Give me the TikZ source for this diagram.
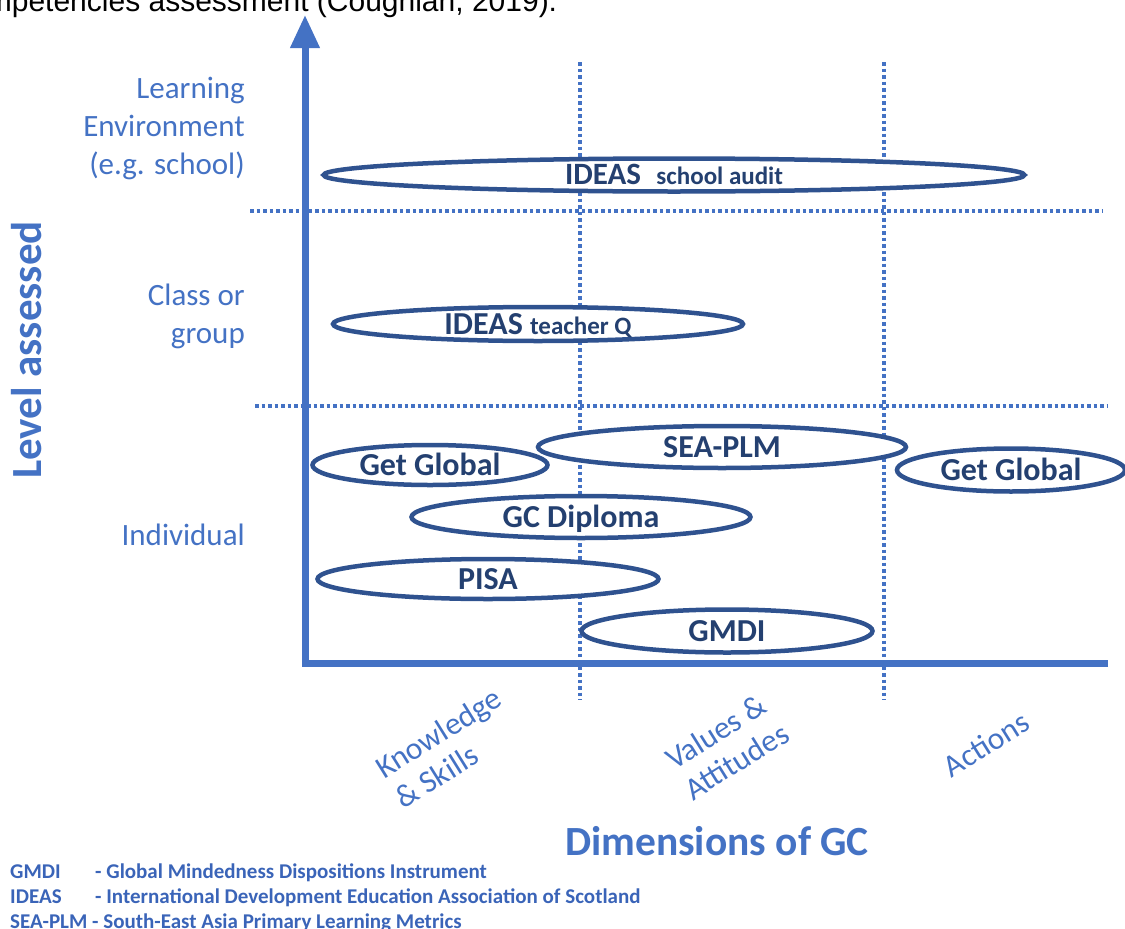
\documentclass[tikz,border=0pt]{standalone}
\usepackage{fontspec}
\setmainfont{Carlito}
\newfontfamily\bodyfont{Liberation Sans}
\usetikzlibrary{shapes.geometric,arrows.meta}

\definecolor{axisblue}{RGB}{68,114,196}
\definecolor{legendblue}{RGB}{58,100,184}
\definecolor{ringblue}{RGB}{47,82,143}
\definecolor{ringtext}{RGB}{36,64,112}

\begin{document}
\begin{tikzpicture}[x=1pt,y=-1pt,
  lab/.style={text=axisblue,font=\fontsize{31}{38}\selectfont,align=right,inner sep=0},
  dimlab/.style={text=axisblue,font=\fontsize{31.5}{36}\selectfont,align=left,inner sep=0,rotate=32},
  title/.style={text=axisblue,font=\fontsize{41.5}{48}\selectfont\bfseries,inner sep=0},
  legend/.style={text=legendblue,font=\fontsize{21}{25}\selectfont\bfseries,anchor=base west,inner sep=0},
  ring/.style={ellipse,draw=ringblue,line width=4.5pt,fill=white,inner sep=0},
  ringlabel/.style={text=ringtext,font=\fontsize{32}{38}\selectfont\bfseries,inner sep=0,text height=20.5pt,text depth=0pt},
  gridline/.style={draw=axisblue,line width=3.5pt,dash pattern=on 3.5pt off 3pt},
  axisline/.style={draw=axisblue,line width=7pt,line join=miter}]
\useasboundingbox (0,0) rectangle (1125,929);
\clip (0,0) rectangle (1125,929);

% running text of the page above the chart
\node[anchor=base west,inner sep=0,font=\bodyfont\fontsize{30}{36}\selectfont] (caption) at (-45,11)
  {competencies assessment (Coughlan, 2019).};

% reference points of the grid
\coordinate (origin) at (305,663);
\coordinate (ytip) at (305,15);
\coordinate (xend) at (1108,663);
\coordinate (v1top) at (580,62);   \coordinate (v1bot) at (580,700);
\coordinate (v2top) at (884,62);   \coordinate (v2bot) at (884,700);
\coordinate (h1l) at (250,211);    \coordinate (h1r) at (1102,211);
\coordinate (h2l) at (255,406);    \coordinate (h2r) at (1107,406);

% dotted grid
\draw[gridline] (v1top) -- (v1bot);
\draw[gridline] (v2top) -- (v2bot);
\draw[gridline] (h1l) -- (h1r);
\draw[gridline] (h2l) -- (h2r);

% axes
\draw[axisline,-{Triangle[width=28pt,length=33pt]}] (xend) -- (origin) -- (ytip);

% level labels
\node[lab,anchor=east] (learnenv) at (245,128) {Learning\\Environment\\(e.g. school)};
\node[lab,anchor=east] (classgrp) at (245,316) {Class or\\group};
\node[lab,anchor=east] (indiv) at (245,535) {Individual};
\node[title,rotate=90,font=\fontsize{43}{50}\selectfont\bfseries] (levelt) at (27,350) {Level assessed};

% dimension labels
\node[dimlab] (knowl) at (448,748) {Knowledge\\\& Skills};
\node[dimlab] (values) at (727,746) {Values \&\\Attitudes};
\node[dimlab] (actions) at (986,744) {Actions};
\node[title] (dimt) at (717,841) {Dimensions of GC};

% instruments
\node[ring,minimum width=701pt,minimum height=33pt,
  label={[ringlabel,text height=19.5pt]center:{\fontsize{31}{36}\selectfont IDEAS\enspace{\fontsize{25}{30}\selectfont school audit}}}] (audit) at (674,175) {};
\node[ring,minimum width=410pt,minimum height=34pt,
  label={[ringlabel]center:{IDEAS {\fontsize{25}{30}\selectfont teacher Q}}}] (teacher) at (538,324) {};
\node[ring,minimum width=368pt,minimum height=42pt,
  label={[ringlabel]center:SEA-PLM}] (seaplm) at (722,447) {};
\node[ring,minimum width=235pt,minimum height=40pt,
  label={[ringlabel]center:Get Global}] (getgl) at (430,465) {};
\node[ring,minimum width=228pt,minimum height=43pt,
  label={[ringlabel]center:Get Global}] (getgr) at (1011,470) {};
\node[ring,minimum width=339pt,minimum height=42pt,
  label={[ringlabel]center:GC Diploma}] (gcdip) at (581,517) {};
\node[ring,minimum width=341pt,minimum height=40pt,
  label={[ringlabel]center:PISA}] (pisa) at (488,579) {};
\node[ring,minimum width=291pt,minimum height=43pt,
  label={[ringlabel]center:GMDI}] (gmdi) at (727,631) {};

% legend
\node[legend] (lg1a) at (10,878) {GMDI};
\node[legend] (lg1b) at (95,878) {- Global Mindedness Dispositions Instrument};
\node[legend] (lg2a) at (10,903) {IDEAS};
\node[legend] (lg2b) at (95,903) {- International Development Education Association of Scotland};
\node[legend] (lg3) at (10,928) {SEA-PLM - South-East Asia Primary Learning Metrics};
\end{tikzpicture}
\end{document}
